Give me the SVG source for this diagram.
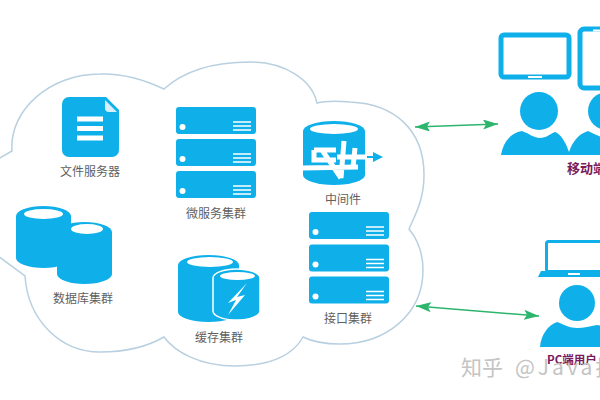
<svg xmlns="http://www.w3.org/2000/svg" width="600" height="400" viewBox="0 0 600 400">
<style>
.i{fill:#0fb0ea}
.w{fill:#fff}
.wl{stroke:#fff;stroke-width:1.6;fill:none}
.t{font-family:"Noto Sans CJK SC","Liberation Sans",sans-serif;font-size:12px;fill:#5f5f5f;text-anchor:middle;dominant-baseline:central}
.p{font-family:"Noto Sans CJK SC","Liberation Sans",sans-serif;font-weight:700;fill:#7a1a5c}
</style>
<defs>
<marker id="a" markerUnits="userSpaceOnUse" markerWidth="15" markerHeight="10" refX="15" refY="5" orient="auto-start-reverse"><path d="M0,0L15,5L0,10L3,5Z" fill="#2cb56c"/></marker>
<g id="srv"><rect class="i" width="80" height="27" rx="3"/><circle class="w" cx="6.500" cy="20" r="3"/><path class="wl" d="M57,15H75M57,19H75M57,23H75"/></g>
</defs>
<rect width="600" height="400" fill="#fff"/>
<g id="cloud"><path fill="none" stroke="#b8d0e0" stroke-width="1.500" d="M-2,159L12,151C9,110 50,74 100,74C125,73 145,80 164,89C185,70 215,62 250,62C285,62 312,80 317,103C325,101 338,101 350,102C395,104 424,130 424,175C424,200 415,215 409,229C418,240 423,255 423,270C423,315 385,344 340,344C325,344 313,342 303,337C295,352 275,366 235,366C200,366 175,352 164,337C145,348 122,352 100,352C60,352 28,320 25,276L-2,256"/></g>
<g id="connectors" stroke="#2cb56c" stroke-width="1.500">
<line x1="415" y1="127" x2="498" y2="124" marker-start="url(#a)" marker-end="url(#a)"/>
<line x1="416" y1="306" x2="539" y2="316" marker-start="url(#a)" marker-end="url(#a)"/>
</g>
<g id="file-server">
<path class="i" d="M69,97H106L119,110V150A7,7 0 0 1 112,157H69A7,7 0 0 1 62,150V104A7,7 0 0 1 69,97Z"/>
<path fill="#d5f0fb" d="M105,100L117,112H109A4,4 0 0 1 105,108Z"/>
<path stroke="#fff" stroke-width="5" d="M77,119H103M77,128.500H103M77,138H103"/>
<text class="t" x="90" y="170">文件服务器</text>
</g>
<g id="micro-service">
<use href="#srv" x="176" y="107"/><use href="#srv" x="176" y="139"/><use href="#srv" x="176" y="171"/>
<text class="t" x="216" y="212">微服务集群</text>
</g>
<g id="middleware">
<path class="i" d="M303,131A31,10 0 0 1 365,131V175A31,10 0 0 1 303,175Z"/>
<ellipse class="w" cx="334" cy="129" rx="24" ry="5"/>
<path stroke="#0fb0ea" stroke-width="2" d="M365,157H374"/>
<path class="i" d="M373,152L383,157L373,162Z"/>
<path fill="none" stroke="#fff" stroke-width="5" d="M314,150H336M314,150V160H336M303,168L358,167M322,150L341,178M344,141L341,178M355,148L353,167M337,157H367"/>
<text class="t" x="343" y="198">中间件</text>
</g>
<g id="interface">
<use href="#srv" x="309" y="212"/><use href="#srv" x="309" y="244.500"/><use href="#srv" x="309" y="276.500"/>
<text class="t" x="348" y="317">接口集群</text>
</g>
<g id="database">
<path class="i" d="M57,232A27.500,10 0 0 1 112,232V274A27.500,10 0 0 1 57,274Z"/>
<ellipse class="w" cx="87" cy="229" rx="16" ry="5"/>
<path class="i" d="M16,216A27.500,10 0 0 1 71,216V258A27.500,10 0 0 1 16,258Z"/>
<ellipse class="w" cx="43.500" cy="214" rx="19.500" ry="5"/>
<text class="t" x="83" y="297">数据库集群</text>
</g>
<g id="cache">
<path class="i" d="M178,265A30.500,10 0 0 1 239,265V312A30.500,10 0 0 1 178,312Z"/>
<ellipse class="w" cx="210" cy="262" rx="23" ry="5"/>
<path class="i" stroke="#fff" stroke-width="1.500" d="M213,278A23.500,9 0 0 1 260,278V311A23.500,9 0 0 1 213,311Z"/>
<ellipse class="w" cx="237.500" cy="276" rx="17.500" ry="4"/>
<path class="w" d="M247,283L228,303L236,300L228,315L245,295L237,297Z"/>
<text class="t" x="219" y="336">缓存集群</text>
</g>
<g id="mobile-users">
<rect x="501" y="35" width="68" height="42" rx="3" fill="#fff" stroke="#0fb0ea" stroke-width="5"/>
<path stroke="#fff" stroke-width="2" d="M528,77H542"/>
<rect x="580" y="29" width="40" height="59" rx="4" fill="#fff" stroke="#0fb0ea" stroke-width="5"/>
<path stroke="#fff" stroke-width="2" d="M593,30.500H604"/>
<circle class="i" cx="539" cy="111" r="19"/>
<circle class="i" cx="607" cy="111" r="19"/>
<path class="i" d="M501,155C503,143 510,133 522,131C530,134 534,138 540,138C546,138 550,134 555,132C561,134 566,143 569,152C572,143 578,134 588,131C595,134 601,138 607,138L612,137V155Z"/>
<text class="p" x="567" y="173" font-size="13">移动端</text>
</g>
<g id="pc-user">
<rect x="546.500" y="241.500" width="60" height="30" rx="2" fill="#fff" stroke="#0fb0ea" stroke-width="3"/>
<path class="i" d="M541,271H610V277H538Z"/>
<path stroke="#fff" stroke-width="2" d="M568,274H580"/>
<circle class="i" cx="577" cy="303" r="18"/>
<path class="i" d="M540,347C541,335 548,325 557,322C565,325 570,328 577,328C584,328 590,326 597,325L604,326V347Z"/>
<text class="p" x="547" y="364" font-size="11.500">PC端用户</text>
</g>
<text x="461" y="375" font-family="'Noto Sans CJK SC','Liberation Sans',sans-serif" font-size="21" fill="#c4c4c4">知乎<tspan x="515" letter-spacing="3">@Java技</tspan></text>
</svg>
